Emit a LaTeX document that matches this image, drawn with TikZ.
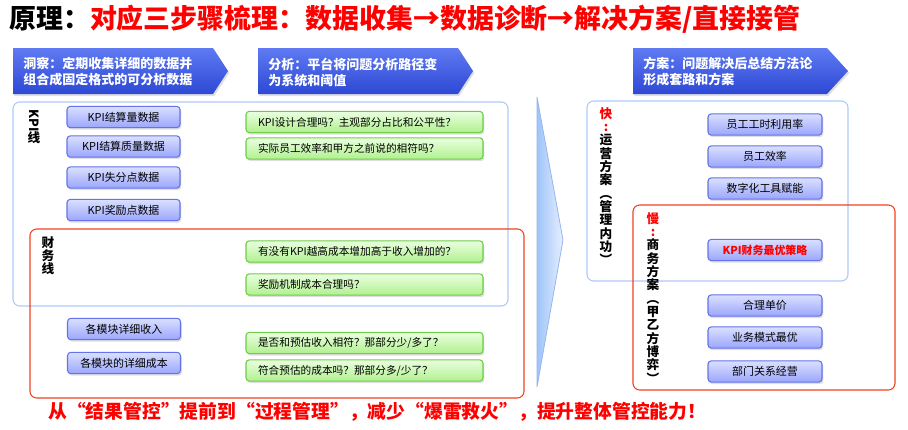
\documentclass[tikz,border=0pt]{standalone}
\usepackage{fontspec}
\setmainfont{Noto Sans CJK SC}
\usetikzlibrary{shadows}
\definecolor{bnodeTop}{RGB}{218,224,255}
\definecolor{bnodeBot}{RGB}{155,166,252}
\definecolor{bnodeLine}{RGB}{100,115,235}
\definecolor{gTop}{RGB}{234,255,224}
\definecolor{gBot}{RGB}{176,240,142}
\definecolor{gLine}{RGB}{110,205,70}
\definecolor{banTop}{RGB}{95,122,242}
\definecolor{banBot}{RGB}{45,72,212}
\definecolor{boxBlue}{RGB}{175,200,248}
\definecolor{boxRed}{RGB}{240,65,30}
\definecolor{arrL}{RGB}{160,195,248}
\definecolor{arrR}{RGB}{230,240,255}
\definecolor{arrLine}{RGB}{150,180,240}
\definecolor{myred}{RGB}{255,0,0}
\tikzset{
  softshadow/.style={drop shadow={shadow xshift=1pt,shadow yshift=-1.5pt,opacity=0.25}},
  bnode/.style={draw=bnodeLine, top color=bnodeTop, bottom color=bnodeBot,
    rounded corners=2.5pt, minimum height=16pt, inner sep=0pt, line width=0.8pt,
    font=\fontsize{8.2}{10}\selectfont, softshadow},
  lnode/.style={bnode, minimum width=84.75pt},
  rnode/.style={bnode, minimum width=85.5pt},
  gnode/.style={draw=gLine, top color=gTop, bottom color=gBot,
    rounded corners=2.5pt, minimum height=16pt, text width=159.75pt,
    align=left, inner xsep=9pt, inner ysep=0pt, line width=0.8pt,
    font=\fontsize{8}{10}\selectfont, softshadow},
  banner/.style={top color=banTop, bottom color=banBot, softshadow},
  bantext/.style={text=white, font=\fontsize{9.75}{12}\selectfont\bfseries,
    align=left, anchor=west, inner sep=0pt},
  vtext/.style={font=\fontsize{9.5}{10}\selectfont\bfseries, align=center,
    anchor=north, inner sep=0pt},
  frame/.style={rounded corners=5pt, line width=0.8pt}
}
\begin{document}
\begin{tikzpicture}[x=0.75pt,y=-0.75pt]
\useasboundingbox (0,0) rectangle (908,429);

% title
\node[anchor=west, inner sep=0pt, font=\fontsize{20.2}{22}\selectfont\bfseries] (title) at (9,19)
  {原理：\textcolor{myred}{对应三步骤梳理：数据收集→数据诊断→解决方案/直接接管}};

% banners
\path[banner] (13,48) -- (213,48) -- (228,71) -- (213,94) -- (13,94) -- cycle;
\path[banner] (258,48) -- (458,48) -- (473,71) -- (458,94) -- (258,94) -- cycle;
\path[banner] (633,48) -- (827,48) -- (848,71) -- (827,94) -- (633,94) -- cycle;
\node[bantext] (b1) at (23,72) {洞察：定期收集详细的数据并\\组合成固定格式的可分析数据};
\node[bantext] (b2) at (268,72) {分析：平台将问题分析路径变\\为系统和阈值};
\node[bantext] (b3) at (643,72) {方案：问题解决后总结方法论\\形成套路和方案};

% big arrow
\path[left color=arrL, right color=arrR, draw=arrLine, line width=0.6pt]
  (537,97) -- (563,240) -- (537,387) -- cycle;

% frames
\draw[frame, draw=boxBlue] (13,102) rectangle (508,306);
\draw[frame, draw=boxRed] (30,229) rectangle (524,398);
\draw[frame, draw=boxBlue] (587,101) rectangle (848,281);
\draw[frame, draw=boxRed] (633,205) rectangle (895,390);

% vertical labels
\node[font=\fontsize{9.5}{10}\selectfont\bfseries, inner sep=0pt, rotate=-90] (kpi) at (34,121) {KPI};
\node[font=\fontsize{9.5}{10}\selectfont\bfseries, inner sep=0pt] (xian) at (34,138) {线};
\node[vtext, font=\fontsize{9.5}{9.75}\selectfont\bfseries] (cw) at (48,236) {财\\务\\线};
\node[vtext] (kuai) at (606,107)
  {\textcolor{myred}{快}\\\textcolor{myred}{:}\\运\\营\\方\\案\\︵\\管\\理\\内\\功\\︶};
\node[vtext] (man) at (653,212)
  {\textcolor{myred}{慢}\\\textcolor{myred}{:}\\商\\务\\方\\案\\︵\\甲\\乙\\方\\博\\弈\\︶};

% left blue nodes
\node[lnode] (l1) at (123.5,117) {KPI结算量数据};
\node[lnode] (l2) at (123.5,146.5) {KPI结算质量数据};
\node[lnode] (l3) at (123.5,177.5) {KPI失分点数据};
\node[lnode] (l4) at (123.5,210) {KPI奖励点数据};
\node[lnode] (l5) at (124,329) {各模块详细收入};
\node[lnode] (l6) at (124,363) {各模块的详细成本};

% green nodes
\node[gnode] (g1) at (364.5,122) {KPI设计合理吗？主观部分占比和公平性？};
\node[gnode] (g2) at (364.5,148.5) {实际员工效率和甲方之前说的相符吗？};
\node[gnode] (g3) at (364.5,251.5) {有没有KPI越高成本增加高于收入增加的？};
\node[gnode] (g4) at (364.5,284.5) {奖励机制成本合理吗？};
\node[gnode] (g5) at (364.5,343) {是否和预估收入相符？那部分少/多了？};
\node[gnode] (g6) at (364.5,370.5) {符合预估的成本吗？那部分多/少了？};

% right nodes
\node[rnode] (r1) at (765,124.5) {员工工时利用率};
\node[rnode] (r2) at (765,156.5) {员工效率};
\node[rnode] (r3) at (765,188.5) {数字化工具赋能};
\node[rnode, text=myred, font=\fontsize{8.2}{10}\selectfont\bfseries] (r4) at (765,250) {KPI财务最优策略};
\node[rnode] (r5) at (765,305.5) {合理单价};
\node[rnode] (r6) at (765,337.5) {业务模式最优};
\node[rnode] (r7) at (765,371.5) {部门关系经营};

% bottom text
\node[anchor=west, inner sep=0pt, text=myred, font=\fontsize{14.1}{16}\selectfont\bfseries] (foot) at (48,412)
  {从“结果管控”提前到“过程管理”，减少“爆雷救火”，提升整体管控能力！};
\end{tikzpicture}
\end{document}
